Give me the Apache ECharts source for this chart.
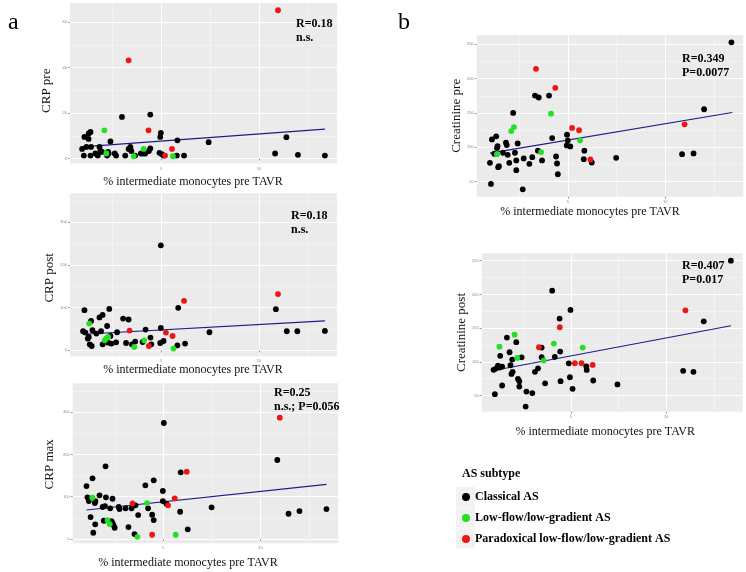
<!DOCTYPE html>
<html>
<head>
<meta charset="utf-8">
<title>CRP / Creatinine vs intermediate monocytes</title>
<script src="https://cdn.jsdelivr.net/npm/echarts@6/dist/echarts.min.js"></script>
<style>
    html, body { margin: 0; padding: 0; background: #fff; }
    #main { width: 746px; height: 572px; }
</style>
</head>
<body>
<div id="main"></div>
<script type="text/javascript">

    // AS subtypes (legend)
    var subtypes = ['Classical AS', 'Low-flow/low-gradient AS', 'Paradoxical low-flow/low-gradient AS'];
    var subtypeColors = ['#000000', '#22e022', '#ee1515'];

    // tick labels
    var xTicks = [5, 10];
    var crpPreTicks = [0, 20, 40, 60];
    var crpTicks = [0, 100, 200, 300];
    var creaTicks = [50, 100, 150, 200, 250];

    // a) CRP pre  [ % intermediate monocytes, CRP ]
    var crpPreClassical = [[0.95,4.2],[1.04,1.3],[1.07,9.5],[1.17,5.1],[1.28,8.6],[1.29,11],[1.38,11.7],[1.41,5.1],[1.38,1.3],[1.63,2.2],[1.75,1.3],[1.84,5.1],[1.89,3.3],[1.97,2.9],[2.23,1.3],[2.28,2.9],[2.31,2.2],[2.40,7.5],[2.62,2.2],[2.69,1.3],[2.99,18.3],[3.16,1.3],[3.33,4.2],[3.42,5.1],[3.47,3.3],[3.67,1.3],[3.96,2.2],[4.07,2.2],[4.18,2.2],[4.37,3.3],[4.44,4.4],[4.44,19.3],[4.91,2.5],[5.03,1.9],[5.12,1.3],[4.95,9.5],[4.98,11.3],[5.80,1.3],[5.83,8.0],[6.17,1.3],[7.43,7.2],[10.83,2.2],[11.41,9.4],[12.0,1.6],[13.38,1.3]];
    var crpPreLowFlow = [[2.09,12.4],[2.19,2.2],[3.59,1.0],[4.10,4.2],[5.60,1.0]];
    var crpPreParadox = [[10.98,65.2],[3.33,43.2],[4.35,12.4],[5.55,4.2],[5.2,1.3]];
    var crpPreFit = [[0.95,5.1],[13.38,12.9]];

    // a) CRP post
    var crpPostClassical = [[1.07,94],[1.0,44.7],[1.12,41.6],[1.24,27.5],[1.29,31.3],[1.34,14.1],[1.44,10.1],[1.41,69],[1.48,47],[1.68,39.2],[1.84,77],[1.92,44.7],[2.0,83],[2.0,14.1],[2.23,57],[2.28,18],[2.34,97],[2.40,33.6],[2.45,15.8],[2.69,18.8],[2.74,42.4],[3.05,74.5],[3.2,17.2],[3.33,72.2],[3.5,14.1],[3.67,20.4],[4.05,19.5],[4.2,48.6],[4.45,29.8],[4.49,14.1],[4.98,246],[4.98,52.5],[4.95,17.2],[5.12,21.9],[5.87,99.5],[5.83,11.8],[6.22,15.8],[7.47,42.4],[10.87,96.5],[11.43,44.7],[11.97,44.7],[13.38,45.4]];
    var crpPostLowFlow = [[1.31,62.7],[2.11,23.5],[2.19,28.2],[2.28,31.3],[3.62,7.8],[4.13,23.5],[5.63,4]];
    var crpPostParadox = [[3.38,46.3],[4.37,10.1],[5.24,41.6],[5.58,33.6],[6.17,116],[10.98,131.8]];
    var crpPostFit = [[1.0,37.6],[13.38,69]];

    // a) CRP max
    var crpMaxClassical = [[1.04,125.3],[1.09,98.6],[1.16,89.8],[1.25,52],[1.35,143.5],[1.39,14.9],[1.47,85.1],[1.5,89.8],[1.49,34.8],[1.71,103.3],[1.87,75.7],[1.93,43.3],[1.99,78],[2.02,171.9],[2.04,98.6],[2.26,72.6],[2.33,42.6],[2.38,95.3],[2.38,37.8],[2.43,33.1],[2.49,26.7],[2.7,75.7],[2.74,70.9],[3.05,72.6],[3.2,28.4],[3.36,72.6],[3.51,11.8],[3.56,79.7],[3.70,56.7],[4.07,127],[4.21,72.6],[4.42,57.4],[4.5,138.8],[4.5,44.9],[4.97,113.5],[4.97,89.8],[5.15,83.5],[5.02,274.2],[5.86,64.5],[5.89,157.7],[6.25,22.9],[7.48,74.9],[10.86,186.8],[11.44,59.8],[12.0,66.2],[13.39,70.9]];
    var crpMaxLowFlow = [[1.34,97.6],[2.12,44.9],[2.24,35.5],[3.66,5.4],[4.16,85.1],[5.63,10.2]];
    var crpMaxParadox = [[3.41,84.4],[4.42,10.2],[5.24,79.7],[5.58,96.2],[6.2,159.1],[10.99,286.8]];
    var crpMaxFit = [[1.04,68.6],[13.39,129.3]];

    // b) Creatinine pre
    var creaPreClassical = [[1.01,77.4],[1.06,46.6],[1.11,111.5],[1.23,90.6],[1.33,115.9],[1.37,98.8],[1.40,101.7],[1.43,71],[1.47,72.4],[1.68,92],[1.83,106.6],[1.87,103.2],[1.92,89],[2.0,77.4],[2.2,150],[2.29,92],[2.36,80.8],[2.36,66.6],[2.43,105.6],[2.69,38.7],[2.74,83.7],[3.03,75.9],[3.18,85.6],[3.32,175.4],[3.51,172.5],[3.47,95],[3.68,80.8],[4.04,175.4],[4.2,113.4],[4.4,86.6],[4.45,76.4],[4.49,60.7],[4.96,118.3],[5.0,110],[4.95,102.7],[5.13,101.2],[5.85,95],[5.82,82.7],[6.23,77.8],[7.48,84.7],[10.86,90],[11.45,91],[11.99,155.4],[13.39,252.9]];
    var creaPreLowFlow = [[1.37,89.9],[2.1,123.6],[2.24,129.5],[3.63,93],[4.14,149],[5.63,110.1]];
    var creaPreParadox = [[3.37,214.3],[4.36,186.6],[5.22,128.2],[5.58,124.8],[6.16,82.2],[10.99,133.4]];
    var creaPreFit = [[1.01,91.5],[13.43,150.6]];

    // b) Creatinine post
    var creaPostClassical = [[0.95,88.1],[1.05,89.6],[1.18,94.5],[1.26,91.6],[1.3,108.9],[1.02,52],[1.4,93],[1.4,64.9],[1.65,135.9],[1.79,114.2],[1.84,94.9],[1.89,82.1],[1.95,85.1],[1.93,103.3],[2.14,129.1],[2.23,74.7],[2.3,71.3],[2.3,63.3],[2.42,106.7],[2.63,33.6],[2.67,55.8],[2.98,53.7],[3.12,85.1],[3.28,90.4],[3.47,121.1],[3.47,106.8],[3.65,68.1],[4.02,205.5],[4.16,107.4],[4.41,164.1],[4.44,115.2],[4.46,71.3],[4.89,97.8],[4.95,77.1],[4.98,177],[5.09,59.9],[5.81,93.3],[5.83,88],[6.17,72.3],[7.44,66.4],[10.88,86.6],[11.42,85.1],[11.96,160.1],[13.38,250]];
    var creaPostLowFlow = [[1.26,122.5],[2.05,140.3],[2.19,105.8],[3.58,101.9],[4.11,127.1],[5.62,121.1]];
    var creaPostParadox = [[3.33,121.6],[4.42,151.3],[5.21,97.9],[5.56,97.9],[6.14,95.4],[11.0,176.4]];
    var creaPostFit = [[0.88,86.7],[13.38,153.6]];

    var serif = "'Liberation Serif', 'Times New Roman', serif";

    // panel layout: grid box, y range, axis titles (gap, shift), stats text
    var panels = [
        {grid: [70, 3, 267, 160.5], ymin: -2.2, ymax: 68.4, split: 4, yTicks: crpPreTicks, yName: 'CRP pre', yGap: 17, yShift: 15,
         xGap: 12, xShift: 21, stats: 'R=0.18\nn.s.', statPos: [296, 17],
         data: [crpPreClassical, crpPreLowFlow, crpPreParadox], fit: crpPreFit},
        {grid: [70, 193.3, 267, 163], ymin: -14, ymax: 368, split: 4, yTicks: crpTicks, yName: 'CRP post', yGap: 14, yShift: 6,
         xGap: 8, xShift: 21, stats: 'R=0.18\nn.s.', statPos: [291, 209],
         data: [crpPostClassical, crpPostLowFlow, crpPostParadox], fit: crpPostFit},
        {grid: [72.7, 383.3, 265.6, 160], ymin: -10, ymax: 368, split: 4, yTicks: crpTicks, yName: 'CRP max', yGap: 17, yShift: 2,
         xGap: 14, xShift: 35, stats: 'R=0.25\nn.s.; P=0.056', statPos: [274, 386],
         data: [crpMaxClassical, crpMaxLowFlow, crpMaxParadox], fit: crpMaxFit},
        {grid: [476.7, 35, 266.6, 161.7], ymin: 28, ymax: 263.6, split: 5, yTicks: creaTicks, yName: 'Creatinine pre', yGap: 12, yShift: 0,
         xGap: 9, xShift: 40, stats: 'R=0.349\nP=0.0077', statPos: [682, 52],
         data: [creaPreClassical, creaPreLowFlow, creaPreParadox], fit: creaPreFit},
        {grid: [481.7, 253.3, 261, 158.4], ymin: 26, ymax: 261, split: 5, yTicks: creaTicks, yName: 'Creatinine post', yGap: 10, yShift: 0,
         xGap: 14, xShift: 14, stats: 'R=0.407\nP=0.017', statPos: [682, 259],
         data: [creaPostClassical, creaPostLowFlow, creaPostParadox], fit: creaPostFit}
    ];

    var grids = [], xAxes = [], yAxes = [], series = [];
    var titles = [
        {text: 'a', left: 8, top: 11, padding: 0, textStyle: {fontSize: 24, fontWeight: 'normal', color: '#000', fontFamily: serif}},
        {text: 'b', left: 398, top: 11, padding: 0, textStyle: {fontSize: 24, fontWeight: 'normal', color: '#000', fontFamily: serif}},
        {text: 'AS subtype', left: 462, top: 468, padding: 0, textStyle: {fontSize: 12, fontWeight: 'bold', color: '#000', fontFamily: serif}}
    ];

    panels.forEach(function (p, i) {
        grids.push({left: p.grid[0], top: p.grid[1], width: p.grid[2], height: p.grid[3],
            show: true, backgroundColor: '#EBEBEB', borderWidth: 0, containLabel: false});

        var common = {
            gridIndex: i,
            axisLine: {show: false},
            axisTick: {show: true, length: 2, lineStyle: {color: '#555', width: 0.6}},
            splitLine: {show: true, lineStyle: {color: '#ffffff', width: 1.1}},
            minorTick: {show: false, splitNumber: 2},
            minorSplitLine: {show: true, lineStyle: {color: '#F7F7F7', width: 0.6}},
            nameLocation: 'middle'
        };
        xAxes.push(Object.assign({}, common, {
            type: 'value', min: 0.33, max: 14, splitNumber: 3,
            axisTick: Object.assign({}, common.axisTick, {customValues: xTicks}),
            axisLabel: {customValues: xTicks, fontSize: 4, color: '#888', margin: 3},
            name: '% intermediate monocytes pre TAVR', nameGap: p.xGap,
            nameTextStyle: {fontFamily: serif, fontSize: 12, color: '#111', padding: [0, p.xShift, 0, 0]}
        }));
        yAxes.push(Object.assign({}, common, {
            type: 'value', min: p.ymin, max: p.ymax, splitNumber: p.split,
            axisTick: Object.assign({}, common.axisTick, {customValues: p.yTicks}),
            axisLabel: {customValues: p.yTicks, fontSize: 4, color: '#888', margin: 3},
            name: p.yName, nameGap: p.yGap,
            nameTextStyle: {fontFamily: serif, fontSize: 13, color: '#111', padding: [0, p.yShift, 0, 0]}
        }));

        p.data.forEach(function (d, k) {
            series.push({
                name: subtypes[k], type: 'scatter', xAxisIndex: i, yAxisIndex: i,
                data: d, symbolSize: 5.8, itemStyle: {color: subtypeColors[k], opacity: 1},
                z: 3 + k
            });
        });
        series.push({
            name: 'fit', type: 'line', xAxisIndex: i, yAxisIndex: i, data: p.fit,
            symbol: 'none', silent: true, z: 2,
            lineStyle: {color: '#1c1c8a', width: 1.1}
        });

        titles.push({text: p.stats, left: p.statPos[0], top: p.statPos[1], padding: 0,
            textStyle: {fontSize: 12, lineHeight: 14, fontWeight: 'bold', color: '#000', fontFamily: serif}});
    });

    var myChart = echarts.init(document.getElementById('main'));
    var option = {
        backgroundColor: '#fff',
        animation: false,
        title: titles,
        grid: grids,
        xAxis: xAxes,
        yAxis: yAxes,
        legend: {
            data: subtypes, orient: 'vertical', left: 462, top: 490, padding: 0,
            icon: 'circle', itemWidth: 8, itemHeight: 8, itemGap: 7, z: 10,
            textStyle: {fontFamily: serif, fontSize: 12, lineHeight: 14, fontWeight: 'bold', color: '#000'}
        },
        graphic: [
            {type: 'rect', left: 456, top: 487, z: 0, shape: {width: 19, height: 20}, style: {fill: '#F2F2F2'}},
            {type: 'rect', left: 456, top: 507.5, z: 0, shape: {width: 19, height: 20}, style: {fill: '#F2F2F2'}},
            {type: 'rect', left: 456, top: 528.5, z: 0, shape: {width: 19, height: 20}, style: {fill: '#F2F2F2'}}
        ],
        series: series
    };
    myChart.setOption(option);
</script>
</body>
</html>
